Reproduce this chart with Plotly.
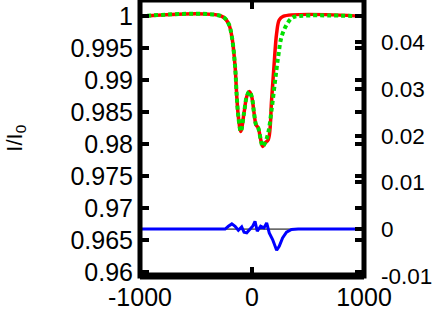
import plotly.graph_objects as go

# ---- data ----
x_red = [-1000, -269, -211, -180, -151, -136, -122, -100, -71, -47, -24, -3, 18, 36, 56, 78, 95, 116,
         145, 175, 196, 220, 243, 278, 1000]
y_red = [1.0, 1.0, 0.99891, 0.99681, 0.99213, 0.98744, 0.98431, 0.98197, 0.98489, 0.98744, 0.98822,
         0.98744, 0.98489, 0.98302, 0.98250, 0.98067, 0.97963, 0.98016,
         0.98067, 0.98692, 0.99213, 0.99734, 0.99942, 1.0, 1.0]

x_green = [-1000, -269, -211, -180, -151, -136, -122, -100, -71, -47, -24, -3, 18, 36, 56, 78, 95, 116,
           145, 175, 204, 234, 264, 308, 353, 397, 1000]
y_green = [1.0, 1.0, 0.99891, 0.99681, 0.99213, 0.98744, 0.98431, 0.98197, 0.98489, 0.98744, 0.98822,
           0.98744, 0.98489, 0.98302, 0.98250, 0.98067, 0.97963, 0.98016,
           0.98177, 0.98536, 0.98958, 0.99369, 0.99681, 0.99864, 0.99969, 1.0, 1.0]

x_blue = [-1000, -240, -211, -180, -151, -122, -92, -71, -47, -18, 6, 27, 47, 77, 107, 131, 154, 184,
          204, 220, 243, 273, 308, 353, 412, 1000]
y_blue = [0.0, 0.0, 0.00060, 0.00111, 0.00060, -0.00026, 0.00047, -0.00068, -0.00081, 0.00004, 0.0006,
          0.00167, -0.00047, 0.0006, 0.00026, 0.00132, -0.00081, -0.00224,
          -0.00368, -0.00453, -0.00368, -0.00188, -0.00068, -0.0001, 0.0, 0.0]

x_zero = [-1000, 1000]
y_zero = [0.0, 0.0]

x_tick_vals = [-1000, 0, 1000]
x_tick_text = ["-1000", "0", "1000"]
y_tick_vals = [0.96, 0.965, 0.97, 0.975, 0.98, 0.985, 0.99, 0.995, 1.0]
y_tick_text = ["0.96", "0.965", "0.97", "0.975", "0.98", "0.985", "0.99", "0.995", "1"]
y2_tick_vals = [-0.01, 0.0, 0.01, 0.02, 0.03, 0.04]
y2_tick_text = ["-0.01", "0", "0.01", "0.02", "0.03", "0.04"]

FONT = "Liberation Sans, Arial, sans-serif"

fig = go.Figure()
fig.add_trace(go.Scatter(x=x_zero, y=y_zero, yaxis="y2", mode="lines",
                         line=dict(color="black", width=1), showlegend=False))
fig.add_trace(go.Scatter(x=x_red, y=y_red, mode="lines", line_shape="spline",
                         line=dict(color="#ff0000", width=3.5), showlegend=False))
fig.add_trace(go.Scatter(x=x_green, y=y_green, mode="lines", line_shape="spline",
                         line=dict(color="#00e000", width=4, dash="4px,3px"), showlegend=False))
fig.add_trace(go.Scatter(x=x_blue, y=y_blue, yaxis="y2", mode="lines",
                         line=dict(color="#0000ff", width=3), showlegend=False))

fig.update_layout(
    width=434, height=311,
    margin=dict(l=139.5, r=69.5, t=0, b=34.5, autoexpand=False),
    paper_bgcolor="white", plot_bgcolor="white",
    font=dict(family=FONT, size=25, color="black"),
    xaxis=dict(range=[-1000, 1000], tickvals=x_tick_vals, ticktext=x_tick_text,
               ticks="inside", ticklen=9, tickwidth=4, tickcolor="black",
               mirror="ticks", showline=False, showgrid=False, zeroline=False,
               ticklabelstandoff=4),
    yaxis=dict(range=[0.959344, 1.002547], tickvals=y_tick_vals, ticktext=y_tick_text,
               ticks="inside", ticklen=9, tickwidth=4, tickcolor="black",
               mirror="ticks", showline=False, showgrid=False, zeroline=False,
               ticklabelstandoff=6),
    yaxis2=dict(range=[-0.010043, 0.049038], tickvals=y2_tick_vals, ticktext=y2_tick_text,
                overlaying="y", side="right",
                ticks="inside", ticklen=9, tickwidth=4, tickcolor="black",
                showline=False, showgrid=False, zeroline=False,
                tickfont=dict(family=FONT, size=22.5, color="black"),
                ticklabelstandoff=16),
    shapes=[
        dict(type="rect", xref="paper", yref="paper", x0=0, x1=1, y0=0, y1=1,
             line=dict(color="black", width=5), layer="above"),
        dict(type="line", xref="paper", yref="paper", x0=0, x1=1, y0=0, y1=0,
             line=dict(color="black", width=7), layer="above"),
    ],
    annotations=[
        dict(text="I/I<sub>0</sub>", xref="paper", yref="paper", x=-0.555, y=0.5,
             xanchor="center", yanchor="middle", textangle=-90, showarrow=False,
             font=dict(family=FONT, size=22, color="black")),
    ],
)

fig.write_html("out.html", config={"displayModeBar": False},
               post_script="document.body.style.margin='0px';document.body.style.padding='0px';")
